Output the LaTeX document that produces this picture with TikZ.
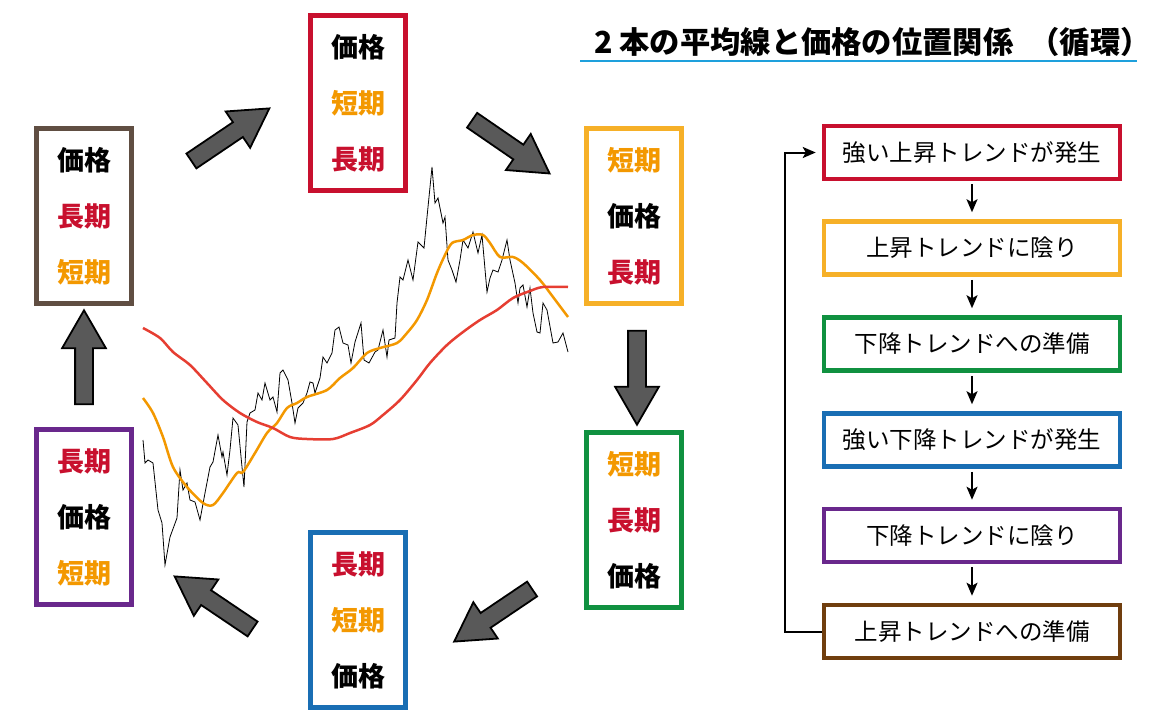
\documentclass[tikz,border=0pt]{standalone}
\usepackage{fontspec}
\setmainfont{Noto Sans CJK JP}
\usetikzlibrary{positioning,shapes.arrows,arrows.meta}
\definecolor{cred}{RGB}{200,16,46}
\definecolor{corange}{RGB}{243,152,0}
\definecolor{cyellow}{RGB}{246,176,40}
\definecolor{cgreen}{RGB}{16,145,64}
\definecolor{cblue}{RGB}{25,110,180}
\definecolor{cpurple}{RGB}{105,40,140}
\definecolor{cbrown}{RGB}{96,78,66}
\definecolor{fbrown}{RGB}{112,62,14}
\definecolor{agray}{RGB}{89,89,89}
\definecolor{lblue}{RGB}{30,160,220}
\definecolor{lred}{RGB}{230,62,50}
\newcommand{\kakaku}{\textcolor{black}{価格}}
\newcommand{\tanki}{\textcolor{corange}{短期}}
\newcommand{\choki}{\textcolor{cred}{長期}}
\tikzstyle{cyclebox} = [rectangle, minimum width=95pt, minimum height=175pt, line width=5pt, align=center, inner sep=0pt, font=\fontsize{27}{56}\selectfont\bfseries]
\tikzstyle{flowbox} = [rectangle, minimum width=296pt, minimum height=53pt, line width=4.5pt, inner sep=0pt, font=\fontsize{23.5}{28}\selectfont]
\tikzstyle{bigarrow} = [single arrow, draw=black, line width=1.8pt, fill=agray, minimum height=94pt, inner xsep=0pt, inner ysep=8pt, single arrow head extend=13pt, single arrow tip angle=60]
\tikzstyle{arrow} = [line width=2pt,->,>={Stealth[length=13pt,width=11pt,inset=3pt]}, shorten <=3pt, shorten >=7pt]

\begin{document}
\begin{tikzpicture}[x=1pt,y=-1pt]
\useasboundingbox (0,0) rectangle (1160,720);
%
\node (title) at (594,42) [anchor=west, inner sep=0pt, font=\fontsize{30.3}{32}\selectfont\bfseries] {2 本の平均線と価格の位置関係\hspace*{16pt}（循環）};
\draw [lblue, line width=2pt] (580,61) -- (1137,61);
%
% price and moving averages
\draw [black, line width=0.8pt] plot coordinates {(143,440) (145,463) (148,460) (153,463) (158,510) (162,523) (165,565) (170,537) (177,518) (180,470) (183,490) (187,483) (190,500) (195,502) (200,520) (205,493) (210,467) (213,462) (218,435) (222,457) (223,452) (227,475) (230,450) (233,418) (238,425) (242,467) (244,487) (247,422) (250,413) (255,410) (258,393) (262,400) (265,383) (270,400) (273,397) (277,412) (280,373) (283,370) (288,380) (292,403) (295,423) (298,408) (303,403) (307,393) (310,382) (313,383) (315,393) (320,378) (323,357) (327,363) (332,353) (335,330) (339,327) (343,343) (348,345) (351,363) (355,342) (361,323) (364,360) (369,363) (375,352) (378,350) (383,330) (387,357) (389,340) (395,338) (397,303) (400,277) (403,280) (408,260) (413,280) (418,242) (424,248) (427,217) (432,167) (435,203) (438,198) (443,223) (445,217) (448,260) (452,270) (456,282) (460,260) (463,240) (468,248) (473,232) (478,253) (482,235) (487,292) (490,278) (493,270) (498,272) (502,260) (507,240) (510,260) (515,283) (518,303) (520,288) (523,285) (527,307) (530,288) (533,313) (537,332) (540,333) (543,303) (547,310) (553,343) (558,342) (563,333) (568,352)};
\draw [corange, line width=2.5pt] plot [smooth] coordinates {(143,398) (153,413) (163,437) (173,467) (187,487) (203,503) (213,505) (223,493) (237,473) (243,472) (255,453) (267,433) (277,423) (287,408) (297,403) (307,397) (327,390) (340,378) (353,368) (367,353) (380,348) (397,343) (407,333) (417,320) (427,300) (437,273) (445,255) (452,243) (463,240) (473,235) (483,235) (490,243) (500,257) (513,257) (523,263) (540,280) (553,297) (568,317)};
\draw [lred, line width=2.5pt] plot [smooth] coordinates {(143,328) (160,338) (173,352) (190,365) (207,383) (223,400) (240,413) (257,422) (273,428) (290,437) (307,439) (333,439) (350,433) (370,425) (383,415) (400,400) (417,380) (430,363) (447,345) (463,332) (480,320) (497,310) (513,298) (530,291) (543,287) (568,287)};
%
% cycle of positions
\node (top) at (358,103) [cyclebox, draw=cred] {\kakaku\\\tanki\\\choki};
%
\node (righttop) at (634,216) [cyclebox, draw=cyellow] {\tanki\\\kakaku\\\choki};
%
\node (rightbot) at (634,520) [cyclebox, draw=cgreen] {\tanki\\\choki\\\kakaku};
%
\node (bottom) at (358,620) [cyclebox, draw=cblue] {\choki\\\tanki\\\kakaku};
%
\node (leftbot) at (84,517) [cyclebox, draw=cpurple] {\choki\\\kakaku\\\tanki};
%
\node (lefttop) at (84,216) [cyclebox, draw=cbrown] {\kakaku\\\choki\\\tanki};
%
\node (arUL) at (224,139) [bigarrow, rotate=34] {};
\node (arUR) at (504.5,142.5) [bigarrow, rotate=-34.5] {};
\node (arR) at (637,370) [bigarrow, rotate=-90] {};
\node (arLR) at (499.5,611) [bigarrow, rotate=-146] {};
\node (arLL) at (220,607) [bigarrow, rotate=146] {};
\node (arL) at (84,365) [bigarrow, rotate=90] {};
%
% flow of trends
\node (f1) at (972,152.5) [flowbox, draw=cred] {強い上昇トレンドが発生};
%
\node (f2) at (972,248) [flowbox, draw=cyellow] {上昇トレンドに陰り};
%
\node (f3) at (972,344) [flowbox, draw=cgreen] {下降トレンドへの準備};
%
\node (f4) at (972,440) [flowbox, draw=cblue] {強い下降トレンドが発生};
%
\node (f5) at (972,535.5) [flowbox, draw=cpurple] {下降トレンドに陰り};
%
\node (f6) at (972,631.5) [flowbox, draw=fbrown] {上昇トレンドへの準備};
%
\draw [arrow] (f1) -- (f2);
\draw [arrow] (f2) -- (f3);
\draw [arrow] (f3) -- (f4);
\draw [arrow] (f4) -- (f5);
\draw [arrow] (f5) -- (f6);
\draw [arrow, shorten <=0pt, shorten >=6pt] (f6.west) -- ++(-37,0) |- (f1.west);

\end{tikzpicture}
\end{document}
